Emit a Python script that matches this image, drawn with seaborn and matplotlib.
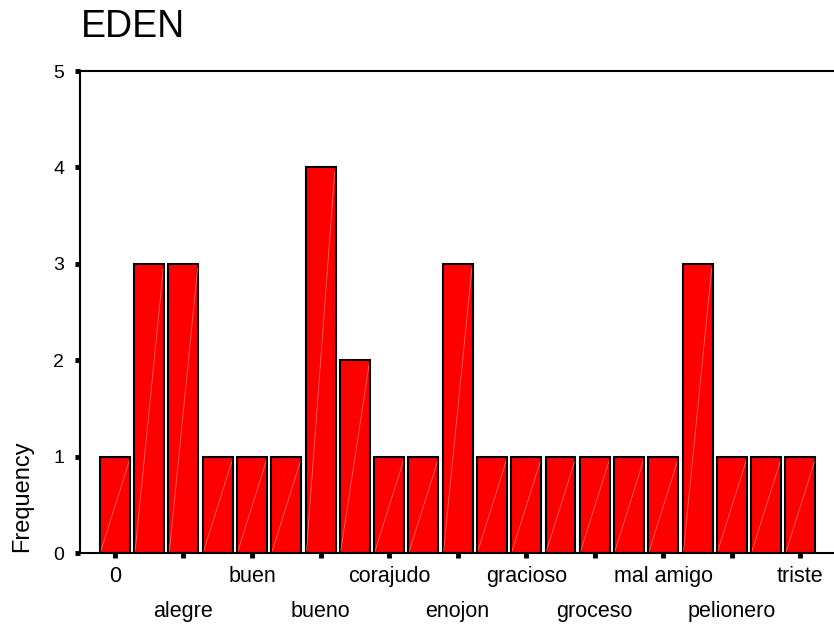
import matplotlib
matplotlib.use("Agg")
import matplotlib.pyplot as plt
import seaborn as sns
import pandas as pd

# Responses and their counts
categories = ["0", "agresivo", "alegre", "amable", "buen", "buen amigo", "bueno",
              "chistoso", "corajudo", "divertido", "enojon", "feliz", "gracioso",
              "grande", "groceso", "inteligente", "mal amigo", "malo", "pelionero",
              "simpatico", "triste"]
counts = [1, 3, 3, 1, 1, 1, 4, 2, 1, 1, 3, 1, 1, 1, 1, 1, 1, 3, 1, 1, 1]
y_ticks = [0, 1, 2, 3, 4, 5]

df = pd.DataFrame({"respuesta": categories, "frecuencia": counts})

sns.set_theme(style="white")
plt.rcParams["font.family"] = ["Liberation Sans", "DejaVu Sans"]
plt.rcParams["text.color"] = "black"
plt.rcParams["xtick.color"] = "black"
plt.rcParams["ytick.color"] = "black"

fig = plt.figure(figsize=(8.34, 6.25), dpi=100)
ax = fig.add_axes([0.0959, 0.1152, 0.9041, 0.7712])

sns.barplot(data=df, x="respuesta", y="frecuencia", color="#ff0000",
            saturation=1, width=0.875, edgecolor="black", linewidth=1.5,
            order=categories, ax=ax)

# faint diagonal highlight inside each bar
for p in ax.patches:
    x0, w, h = p.get_x(), p.get_width(), p.get_height()
    ax.plot([x0 + 0.03 * w, x0 + 0.97 * w], [0.02, h - 0.05], color="#ff9090",
            lw=0.6, alpha=0.7, zorder=p.get_zorder() + 0.1)

ax.set_xlim(-1.02, 20.98)
ax.set_ylim(0, 5)
ax.set_yticks(y_ticks)
ax.set_yticklabels([str(t) for t in y_ticks], fontsize=14)

# tick every second bar; labels alternate between an upper row (major ticks)
# and a lower row (minor ticks)
upper = list(range(0, len(categories), 4))
lower = list(range(2, len(categories), 4))
ax.set_xticks(upper)
ax.set_xticklabels([categories[i] for i in upper], fontsize=15.5)
ax.set_xticks(lower, minor=True)
ax.set_xticklabels([categories[i] for i in lower], fontsize=15.5, minor=True)

ax.tick_params(axis="both", which="both", direction="out", length=3.5, width=3.5,
               color="black", bottom=True, left=True, top=False, right=False)
ax.tick_params(axis="x", which="major", pad=6)
ax.tick_params(axis="x", which="minor", pad=31)
ax.tick_params(axis="y", pad=8)

for side in ["left", "top", "bottom"]:
    ax.spines[side].set_visible(True)
    ax.spines[side].set_color("black")
    ax.spines[side].set_linewidth(1.5)
ax.spines["right"].set_visible(False)

ax.set_xlabel("")
ax.set_ylabel("")
fig.text(0.027, 0.206, "Frequency", rotation=90, fontsize=17,
         ha="center", va="center")
fig.text(0.097, 0.957, "EDEN", fontsize=27, ha="left", va="center")

fig.savefig("out.png", dpi=100)
